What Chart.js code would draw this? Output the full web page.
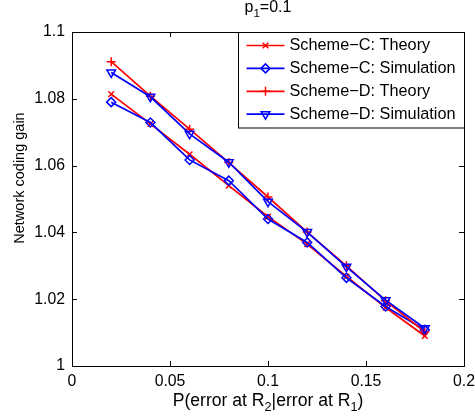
<!DOCTYPE html>
<html>
<head>
<meta charset="utf-8">
<script src="https://cdn.jsdelivr.net/npm/chart.js@4.4.0/dist/chart.umd.min.js"></script>
<style>
  html, body { margin: 0; padding: 0; background: #fff; }
  canvas { display: block; }
</style>
</head>
<body>
<canvas id="chart" width="475" height="419"></canvas>
<script>
const FONT = "'Liberation Sans', Arial, Helvetica, sans-serif";

// values
const xValues = [0.02, 0.04, 0.06, 0.08, 0.10, 0.12, 0.14, 0.16, 0.18];
const schemeCTheory = [1.0814, 1.0725, 1.0634, 1.0540, 1.0447, 1.0365, 1.0268, 1.0175, 1.0090];
const schemeCSim    = [1.0790, 1.0729, 1.0617, 1.0555, 1.0440, 1.0370, 1.0264, 1.0178, 1.0108];
const schemeDTheory = [1.0911, 1.0808, 1.0709, 1.0609, 1.0506, 1.0401, 1.0300, 1.0195, 1.0102];
const schemeDSim    = [1.0879, 1.0806, 1.0695, 1.0610, 1.0492, 1.0401, 1.0297, 1.0197, 1.0113];

const xTicks = [0, 0.05, 0.1, 0.15, 0.2];
const yTicks = [1, 1.02, 1.04, 1.06, 1.08, 1.1];

const RED = '#ff0000';
const BLUE = '#0000ff';

function toPoints(ys) {
  return xValues.map((x, i) => ({ x: x, y: ys[i] }));
}

function fmt(v) {
  return String(Number(v.toFixed(4)));
}

function series(label, ys, color, style, radius, rotation, order) {
  return {
    label: label,
    data: toPoints(ys),
    borderColor: color,
    backgroundColor: color,
    borderWidth: 1.7,
    showLine: true,
    pointStyle: style,
    pointRadius: radius,
    pointRotation: rotation,
    pointBorderColor: color,
    pointBackgroundColor: 'rgba(0,0,0,0)',
    pointBorderWidth: 1.5,
    order: order
  };
}

// draws a string with optional subscript parts, centred on cx
function drawParts(ctx, parts, cx, baseline, size) {
  const subSize = size * 0.72;
  let total = 0;
  parts.forEach(p => {
    ctx.font = (p.sub ? subSize : size) + 'px ' + FONT;
    p.w = ctx.measureText(p.t).width;
    total += p.w;
  });
  let x = cx - total / 2;
  ctx.textAlign = 'left';
  ctx.textBaseline = 'alphabetic';
  parts.forEach(p => {
    ctx.font = (p.sub ? subSize : size) + 'px ' + FONT;
    ctx.fillText(p.t, x, baseline + (p.sub ? size * 0.3 : 0));
    x += p.w;
  });
}

const matlabFrame = {
  id: 'matlabFrame',
  afterDatasetsDraw(chart) {
    const ctx = chart.ctx;
    const a = chart.chartArea;
    const xs = chart.scales.x;
    const ys = chart.scales.y;
    ctx.save();
    ctx.strokeStyle = '#000';
    ctx.lineWidth = 1;

    // axes box
    ctx.strokeRect(Math.round(a.left) + 0.5, Math.round(a.top) + 0.5,
      Math.round(a.right - a.left), Math.round(a.bottom - a.top));

    // inward ticks on all four sides
    const tl = 5;
    ctx.beginPath();
    xTicks.forEach(v => {
      const px = Math.round(xs.getPixelForValue(v)) + 0.5;
      ctx.moveTo(px, a.bottom); ctx.lineTo(px, a.bottom - tl);
      ctx.moveTo(px, a.top); ctx.lineTo(px, a.top + tl);
    });
    yTicks.forEach(v => {
      const py = Math.round(ys.getPixelForValue(v)) + 0.5;
      ctx.moveTo(a.left, py); ctx.lineTo(a.left + tl, py);
      ctx.moveTo(a.right, py); ctx.lineTo(a.right - tl, py);
    });
    ctx.stroke();

    // legend inside the axes, top right
    const boxL = Math.round(a.right - 226) + 0.5;
    const boxT = Math.round(a.top) + 0.5;
    const boxB = boxT + 95.5;
    ctx.fillStyle = '#fff';
    ctx.fillRect(boxL, boxT, a.right - boxL, boxB - boxT);
    ctx.strokeRect(boxL, boxT, Math.round(a.right) - boxL + 0.5, boxB - boxT);

    const rowY0 = a.top + 13.5;
    const rowStep = 22.9;
    chart.data.datasets.forEach((ds, i) => {
      const y = rowY0 + i * rowStep;
      const x0 = boxL + 8;
      const x1 = boxL + 46;
      ctx.strokeStyle = ds.borderColor;
      ctx.lineWidth = ds.borderWidth;
      ctx.beginPath();
      ctx.moveTo(x0, y); ctx.lineTo(x1, y);
      ctx.stroke();
      ctx.lineWidth = ds.pointBorderWidth;
      ctx.fillStyle = 'rgba(0,0,0,0)';
      Chart.helpers.drawPoint(ctx, {
        pointStyle: ds.pointStyle,
        radius: ds.pointRadius,
        rotation: ds.pointRotation,
        borderWidth: ds.pointBorderWidth
      }, (x0 + x1) / 2, y);
      ctx.fillStyle = '#000';
      ctx.font = '16.3px ' + FONT;
      ctx.textAlign = 'left';
      ctx.textBaseline = 'middle';
      ctx.fillText(ds.label, boxL + 51, y);
    });

    // title, x label with subscripts, y label
    const cx = (a.left + a.right) / 2;
    ctx.fillStyle = '#000';
    drawParts(ctx, [{ t: 'p' }, { t: '1', sub: true }, { t: '=0.1' }], cx, 12, 16);
    drawParts(ctx, [
      { t: 'P(error at R' }, { t: '2', sub: true },
      { t: '|error at R' }, { t: '1', sub: true }, { t: ')' }
    ], cx, 406, 17.6);

    ctx.translate(20, 178);
    ctx.rotate(-Math.PI / 2);
    ctx.font = '14.5px ' + FONT;
    ctx.textAlign = 'center';
    ctx.textBaseline = 'middle';
    ctx.fillText('Network coding gain', 0, 0);
    ctx.restore();
  }
};

new Chart(document.getElementById('chart'), {
  type: 'scatter',
  data: {
    datasets: [
      series('Scheme\u2212C: Theory', schemeCTheory, RED, 'crossRot', 4, 0, 3),
      series('Scheme\u2212C: Simulation', schemeCSim, BLUE, 'rectRot', 4.5, 0, 2),
      series('Scheme\u2212D: Theory', schemeDTheory, RED, 'cross', 4.5, 0, 1),
      series('Scheme\u2212D: Simulation', schemeDSim, BLUE, 'triangle', 5, 180, 0)
    ]
  },
  options: {
    responsive: false,
    animation: false,
    devicePixelRatio: 1,
    layout: { padding: { top: 32, right: 11, left: 0, bottom: 0 } },
    plugins: {
      legend: { display: false },
      title: { display: false },
      tooltip: { enabled: false }
    },
    scales: {
      x: {
        type: 'linear',
        min: 0,
        max: 0.2,
        afterBuildTicks: s => { s.ticks = xTicks.map(v => ({ value: v })); },
        afterFit: s => { s.height = 53; s.paddingLeft = 0; s.paddingRight = 0; },
        grid: { display: false, drawTicks: false },
        border: { display: false },
        ticks: {
          color: '#000',
          font: { family: FONT, size: 15.8 },
          padding: 6,
          maxRotation: 0,
          autoSkip: false,
          callback: v => fmt(v)
        }
      },
      y: {
        type: 'linear',
        min: 1,
        max: 1.1,
        afterBuildTicks: s => { s.ticks = yTicks.map(v => ({ value: v })); },
        afterFit: s => { s.width = 72; s.paddingTop = 0; s.paddingBottom = 0; },
        grid: { display: false, drawTicks: false },
        border: { display: false },
        ticks: {
          color: '#000',
          font: { family: FONT, size: 15.8 },
          padding: 7,
          autoSkip: false,
          callback: v => fmt(v)
        }
      }
    }
  },
  plugins: [matlabFrame]
});
</script>
</body>
</html>
